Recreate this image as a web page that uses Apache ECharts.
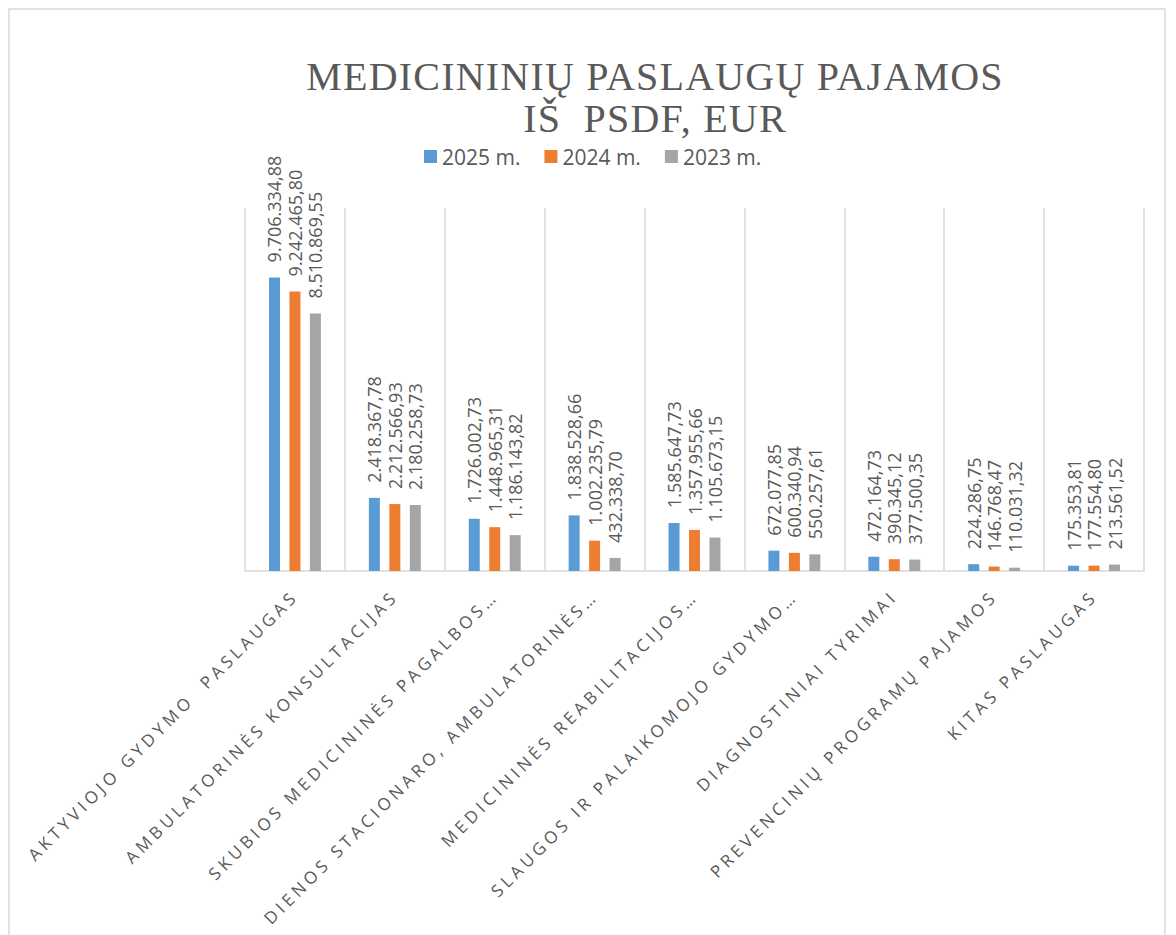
<!DOCTYPE html>
<html>
<head>
<meta charset="utf-8">
<title>Medicininių paslaugų pajamos iš PSDF</title>
<script src="https://cdn.jsdelivr.net/npm/echarts@6.0.0/dist/echarts.min.js"></script>
<style>
    html, body { margin: 0; padding: 0; background: #fff; }
    #chart { width: 1176px; height: 935px; }
</style>
</head>
<body>
<div id="chart"></div>
<script>
const categories = [
    'AKTYVIOJO GYDYMO  PASLAUGAS',
    'AMBULATORINĖS KONSULTACIJAS',
    'SKUBIOS MEDICININĖS PAGALBOS…',
    'DIENOS STACIONARO, AMBULATORINĖS…',
    'MEDICININĖS REABILITACIJOS…',
    'SLAUGOS IR PALAIKOMOJO GYDYMO…',
    'DIAGNOSTINIAI TYRIMAI',
    'PREVENCINIŲ PROGRAMŲ PAJAMOS',
    'KITAS PASLAUGAS'
]
const years = ['2025 m.', '2024 m.', '2023 m.']
const values2025 = [9706334.88, 2418367.78, 1726002.73, 1838528.66, 1585647.73, 672077.85, 472164.73, 224286.75, 175353.81]
const values2024 = [9242465.80, 2212566.93, 1448965.31, 1002235.79, 1357955.66, 600340.94, 390345.12, 146768.47, 177554.80]
const values2023 = [8510869.55, 2180258.73, 1186143.82, 432338.70, 1105673.15, 550257.61, 377500.35, 110031.32, 213561.52]
const colors = ['#5B9BD5', '#ED7D31', '#A5A5A5']

// 9.706.334,88
function fmt(v) {
    const parts = v.toFixed(2).split('.')
    return parts[0].replace(/\B(?=(\d{3})+(?!\d))/g, '.') + ',' + parts[1]
}

function barSeries(name, data, color) {
    return {
        name: name,
        type: 'bar',
        data: data,
        barWidth: 11,
        barGap: '86%',
        itemStyle: { color: color },
        label: {
            show: true,
            position: 'top',
            rotate: 90,
            align: 'left',
            verticalAlign: 'middle',
            distance: 15,
            fontFamily: 'Open Sans',
            fontSize: 18,
            color: '#595959',
            formatter: p => fmt(p.value)
        }
    }
}

// zrender has no letter spacing, the original uses it on the axis labels and title
function spaceLetters() {
    document.querySelectorAll('#chart text').forEach(t => {
        const size = getComputedStyle(t).fontSize
        if (size === '17px') t.style.letterSpacing = '4px'
        else if (size === '40px') t.style.letterSpacing = '1.2px'
    })
}

const chart = echarts.init(document.getElementById('chart'), null, { renderer: 'svg' })
chart.on('finished', spaceLetters)
chart.setOption({
    animation: false,
    title: {
        text: 'MEDICININIŲ PASLAUGŲ PAJAMOS\nIŠ  PSDF, EUR',
        left: 650,
        top: 50,
        textAlign: 'center',
        textStyle: {
            fontFamily: 'Liberation Serif',
            fontSize: 40,
            fontWeight: 'normal',
            lineHeight: 42,
            color: '#595959'
        }
    },
    legend: {
        data: years,
        left: 419,
        top: 141,
        icon: 'rect',
        itemWidth: 13,
        itemHeight: 13,
        itemGap: 24,
        textStyle: {
            fontFamily: 'Open Sans',
            fontSize: 21,
            color: '#595959'
        }
    },
    graphic: [{
        type: 'rect',
        shape: { x: 9, y: 9, width: 1156, height: 960 },
        style: { fill: 'none', stroke: '#D9D9D9', lineWidth: 1.5 },
        silent: true
    }],
    grid: {
        left: 245,
        right: 32,
        top: 208,
        bottom: 364
    },
    xAxis: {
        type: 'category',
        data: categories,
        axisTick: { show: false },
        axisLine: { lineStyle: { color: '#D9D9D9', width: 1.5 } },
        splitLine: { show: true, lineStyle: { color: '#D9D9D9', width: 1.5 } },
        axisLabel: {
            interval: 0,
            rotate: 45,
            margin: 22,
            fontFamily: 'Open Sans',
            fontSize: 17,
            color: '#595959'
        }
    },
    yAxis: {
        type: 'value',
        min: 0,
        max: 12000000,
        show: false,
        splitLine: { show: false }
    },
    series: [
        barSeries(years[0], values2025, colors[0]),
        barSeries(years[1], values2024, colors[1]),
        barSeries(years[2], values2023, colors[2])
    ]
})
spaceLetters()
setTimeout(spaceLetters, 50)
</script>
</body>
</html>
